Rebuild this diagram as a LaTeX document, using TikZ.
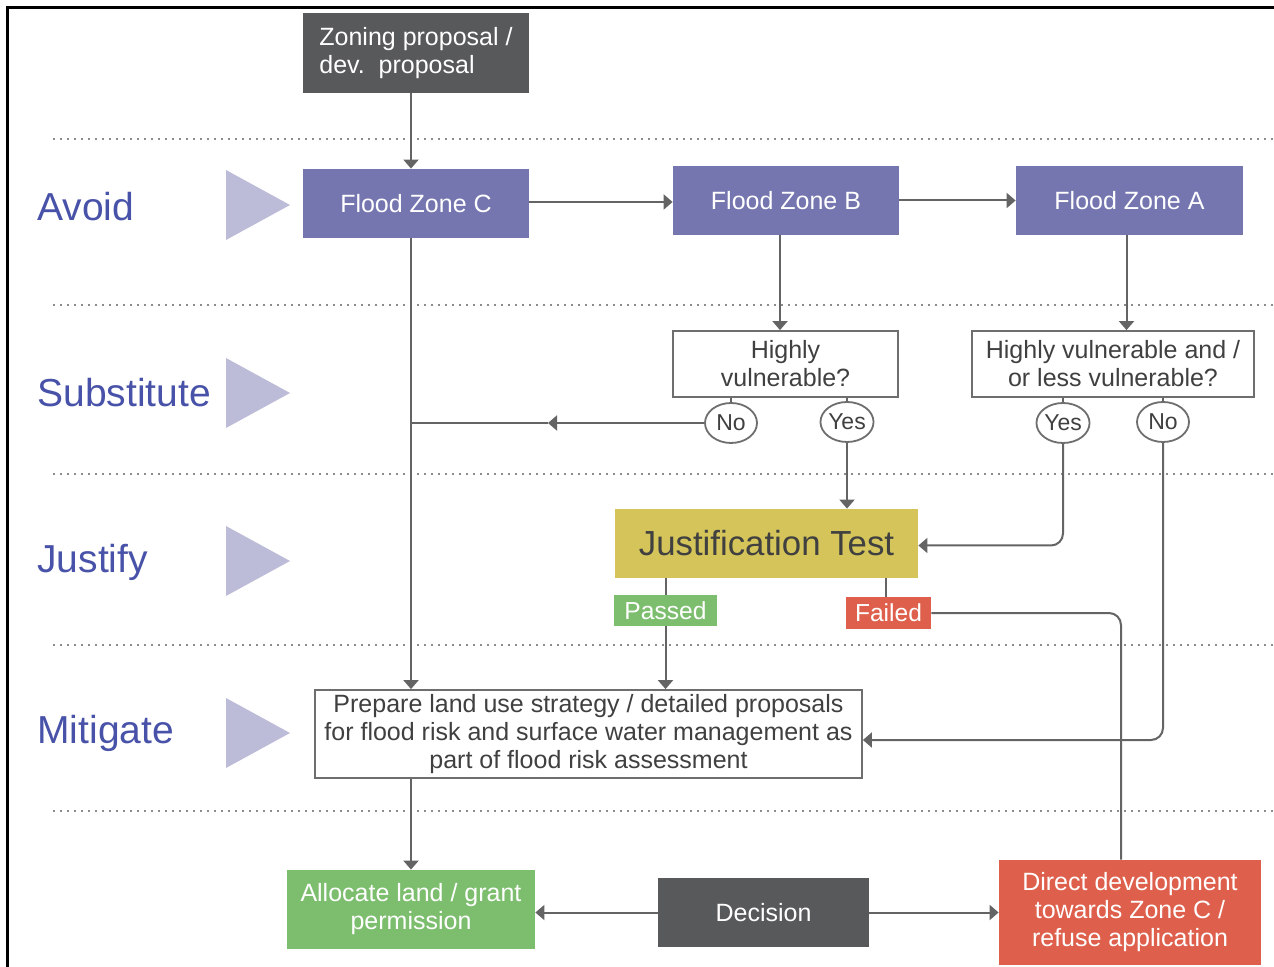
\documentclass[tikz,border=0pt]{standalone}
\usepackage{fontspec}
\setmainfont{Liberation Sans}
\usetikzlibrary{arrows.meta,calc,shapes.geometric}
\definecolor{darkbox}{RGB}{88,89,91}
\definecolor{zonepurple}{RGB}{117,118,176}
\definecolor{tripurple}{RGB}{188,188,216}
\definecolor{labelblue}{RGB}{72,82,168}
\definecolor{justyellow}{RGB}{212,196,90}
\definecolor{okgreen}{RGB}{124,190,110}
\definecolor{badred}{RGB}{222,96,76}
\definecolor{linegray}{RGB}{100,100,100}
\definecolor{boxline}{RGB}{110,110,110}
\definecolor{textgray}{RGB}{64,64,64}
\definecolor{dotgray}{RGB}{140,140,140}
\tikzset{
  fillbox/.style={inner sep=0pt, align=center, text=white, font=\fontsize{12.5}{14}\selectfont},
  linebox/.style={draw=boxline, line width=0.9pt, fill=white, inner sep=0pt, align=center, text=textgray, font=\fontsize{12.5}{14}\selectfont},
  answer/.style={ellipse, draw=boxline, line width=0.9pt, fill=white, inner sep=0pt, minimum width=26pt, minimum height=20pt, text=textgray, font=\fontsize{11.5}{13}\selectfont},
  tag/.style={inner sep=0pt, text=white, font=\fontsize{12.3}{14}\selectfont},
  rowlabel/.style={anchor=west, inner sep=0pt, text=labelblue, font=\fontsize{19.5}{22}\selectfont},
  conn/.style={draw=linegray, line width=1pt},
  arr/.style={conn, -{Triangle[length=4.5pt,width=7.5pt]}},
  dotline/.style={draw=dotgray, line width=1pt, dash pattern=on 0.8pt off 2.7pt},
  tri/.style={fill=tripurple}
}
\begin{document}
\begin{tikzpicture}[x=0.5pt,y=-0.5pt]
\useasboundingbox (0,0) rectangle (1274,967);
\fill[white] (0,0) rectangle (1274,967);
% outer frame (partly cropped)
\draw[black, line width=1.5pt] (7,967) -- (7,8) -- (1274,8);

% dotted separators
\foreach \yy in {139,305,474,645,811} \draw[dotline] (53,\yy) -- (1274,\yy);

% row labels and triangles
\node[rowlabel] (lavoid) at (37,207) {Avoid};
\node[rowlabel] (lsub) at (37,393) {Substitute};
\node[rowlabel] (ljust) at (37,562) {Justify};
\node[rowlabel] (lmit) at (37,733) {Mitigate};
\foreach \yc in {205,393,561,733} \fill[tri] (226,\yc-35) -- (290,\yc) -- (226,\yc+35) -- cycle;

% nodes
\node[fillbox, fill=darkbox, minimum width=113pt, minimum height=40pt, align=left] (zoning) at (416,53) {Zoning proposal /\\dev.\ \ proposal};
\node[fillbox, fill=zonepurple, minimum width=113pt, minimum height=34.5pt] (zc) at (416,203.5) {Flood Zone C};
\node[fillbox, fill=zonepurple, minimum width=113pt, minimum height=34.5pt] (zb) at (786,200.5) {Flood Zone B};
\node[fillbox, fill=zonepurple, minimum width=113.5pt, minimum height=34.5pt] (za) at (1129.5,200.5) {Flood Zone A};

\node[linebox, minimum width=112.5pt, minimum height=33pt] (hv) at (785.5,364) {Highly\\vulnerable?};
\node[linebox, minimum width=141pt, minimum height=33pt] (hvl) at (1113,364) {Highly vulnerable and /\\or less vulnerable?};

\node[answer] (no1) at (731,423) {No};
\node[answer] (yes1) at (847,422) {Yes};
\node[answer] (yes2) at (1063,423) {Yes};
\node[answer] (no2) at (1163,422) {No};

\node[fillbox, fill=justyellow, text=textgray, minimum width=151.5pt, minimum height=34.5pt, font=\fontsize{17.4}{20}\selectfont] (just) at (766.5,543.5) {Justification Test};
\node[tag, fill=okgreen, minimum width=51.5pt, minimum height=15.5pt] (passed) at (665.5,610.5) {Passed};
\node[tag, fill=badred, minimum width=42.5pt, minimum height=16pt] (failed) at (888.5,613) {Failed};

\node[linebox, minimum width=273.5pt, minimum height=44pt] (prep) at (588.5,734) {Prepare land use strategy / detailed proposals\\for flood risk and surface water management as\\part of flood risk assessment};

\node[fillbox, fill=okgreen, minimum width=124pt, minimum height=39.5pt] (alloc) at (411,909.5) {Allocate land / grant\\permission};
\node[fillbox, fill=darkbox, minimum width=105.5pt, minimum height=34.5pt] (dec) at (763.5,912.5) {Decision};
\node[fillbox, fill=badred, minimum width=131pt, minimum height=52.5pt] (dir) at (1130,912.5) {Direct development\\towards Zone C /\\refuse application};

% helper coordinates
\coordinate (cx) at (411,0);
\coordinate (midno) at (548,423);

% connectors
\draw[arr] (zoning.south -| cx) -- (zc.north -| cx);
\draw[arr] ([yshift=0.75pt]zc.east) -- ([yshift=0.75pt]zc.east -| zb.west);
\draw[arr] (zb.east) -- (za.west);
\draw[arr] ([xshift=-3pt]zb.south) -- ([xshift=-3pt]zb.south |- hv.north);
\draw[arr] ([xshift=-1.5pt]za.south) -- ([xshift=-1.5pt]za.south |- hvl.north);
\draw[conn] (hv.south -| no1) -- (no1.north);
\draw[conn] (hv.south -| yes1) -- (yes1.north);
\draw[conn] (hvl.south -| yes2) -- (yes2.north);
\draw[conn] (hvl.south -| no2) -- (no2.north);
\draw[arr] (no1.west) -- (midno);
\draw[conn] (midno) -- (midno -| cx);
\draw[arr] (zc.south -| cx) -- (prep.north -| cx);
\draw[arr] (yes1.south) -- (just.north -| yes1);
\draw[arr, rounded corners=6pt] (yes2.south) |- ([yshift=-1pt]just.east);
\draw[arr, rounded corners=6pt] (no2.south) |- ([yshift=-3pt]prep.east);
\draw[conn] (just.south -| passed) -- (passed.north);
\draw[arr] (passed.south) -- (prep.north -| passed);
\draw[conn] ([xshift=-1.5pt]just.south -| failed) -- ([xshift=-1.5pt]failed.north);
\draw[conn, rounded corners=6pt] (failed.east) -| ([xshift=-4.5pt]dir.north);
\draw[arr] (prep.south -| cx) -- (alloc.north -| cx);
\draw[arr] (dec.west) -- (dec.west -| alloc.east);
\draw[arr] (dec.east) -- (dir.west);
\end{tikzpicture}
\end{document}
